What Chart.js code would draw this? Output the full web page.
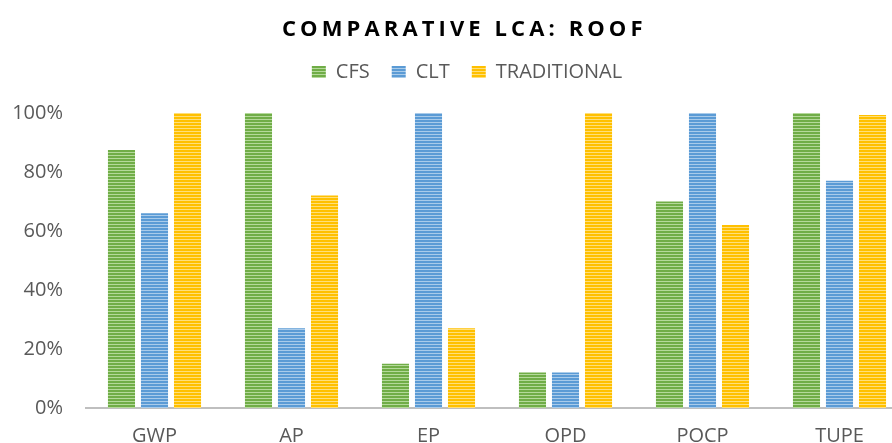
<!DOCTYPE html>
<html>
<head>
<meta charset="utf-8">
<script src="https://cdn.jsdelivr.net/npm/chart.js@4/dist/chart.umd.min.js"></script>
<style>
  html, body { margin: 0; padding: 0; background: #fff; overflow: hidden; }
  #wrap { position: absolute; left: 0; top: 0; width: 930px; height: 464px; }
</style>
</head>
<body>
<div id="wrap"><canvas id="lcaChart"></canvas></div>
<script>
// Data
const categories = ['GWP', 'AP', 'EP', 'OPD', 'POCP', 'TUPE'];
const cfsValues = [87.5, 100, 15, 12, 70, 100];
const cltValues = [66, 27, 100, 12, 100, 77];
const traditionalValues = [100, 72, 27, 100, 62, 99.3];
const yTicks = [0, 20, 40, 60, 80, 100];
const chartTitle = 'COMPARATIVE LCA: ROOF';

// striped fill like the original bars
function stripes(base, light) {
    const c = document.createElement('canvas');
    c.width = 4;
    c.height = 3;
    const g = c.getContext('2d');
    g.fillStyle = base;
    g.fillRect(0, 0, 4, 3);
    g.fillStyle = light;
    g.fillRect(0, 2, 4, 1);
    return g.createPattern(c, 'repeat');
}

const greenFill = stripes('#70ad47', '#b4d99a');
const blueFill = stripes('#5b9bd5', '#a9cbea');
const goldFill = stripes('#ffc000', '#ffdf7a');

const textGrey = '#595959';

// title drawn by hand so it can be letter-spaced
const titlePlugin = {
    id: 'spacedTitle',
    beforeInit(chart) {
        const fit = chart.legend.fit;
        chart.legend.fit = function () {
            fit.bind(chart.legend)();
            this.height += 21;
        };
    },
    afterLayout(chart) {
        // nudge legend a bit right, like the original
        chart.legend.left += 8;
        chart.legend.right += 8;
    },
    afterDraw(chart) {
        const ctx = chart.ctx;
        ctx.save();
        ctx.font = 'bold 22px "Open Sans"';
        ctx.letterSpacing = '4.1px';
        ctx.fillStyle = '#000';
        ctx.textAlign = 'left';
        ctx.textBaseline = 'middle';
        ctx.fillText(chartTitle, 282, 30);
        ctx.restore();
    }
};

const ctx = document.getElementById('lcaChart').getContext('2d');
const lcaChart = new Chart(ctx, {
    type: 'bar',
    data: {
        labels: categories,
        datasets: [
            { label: 'CFS', data: cfsValues, backgroundColor: greenFill },
            { label: 'CLT', data: cltValues, backgroundColor: blueFill },
            { label: 'TRADITIONAL', data: traditionalValues, backgroundColor: goldFill }
        ]
    },
    options: {
        responsive: true,
        maintainAspectRatio: false,
        animation: false,
        categoryPercentage: 0.723,
        barPercentage: 0.82,
        layout: { padding: { top: 40, left: 10, right: 22, bottom: 0 } },
        plugins: {
            title: { display: false },
            tooltip: { enabled: false },
            legend: {
                position: 'top',
                labels: {
                    color: textGrey,
                    font: { family: 'Open Sans', size: 20 },
                    boxWidth: 14,
                    boxHeight: 12,
                    padding: 22
                }
            }
        },
        scales: {
            x: {
                grid: { display: false, drawTicks: false },
                border: { display: true, color: '#bfbfbf', width: 2 },
                ticks: {
                    color: textGrey,
                    font: { family: 'Open Sans', size: 20 },
                    padding: 16
                }
            },
            y: {
                min: 0,
                max: 100,
                afterBuildTicks(scale) {
                    scale.ticks = yTicks.map(v => ({ value: v }));
                },
                afterFit(scale) {
                    scale.width = 76;
                },
                grid: { display: false, drawTicks: false },
                border: { display: false },
                ticks: {
                    color: textGrey,
                    font: { family: 'Open Sans', size: 20 },
                    padding: 23,
                    callback: v => v + '%'
                }
            }
        }
    },
    plugins: [titlePlugin]
});
</script>
</body>
</html>
